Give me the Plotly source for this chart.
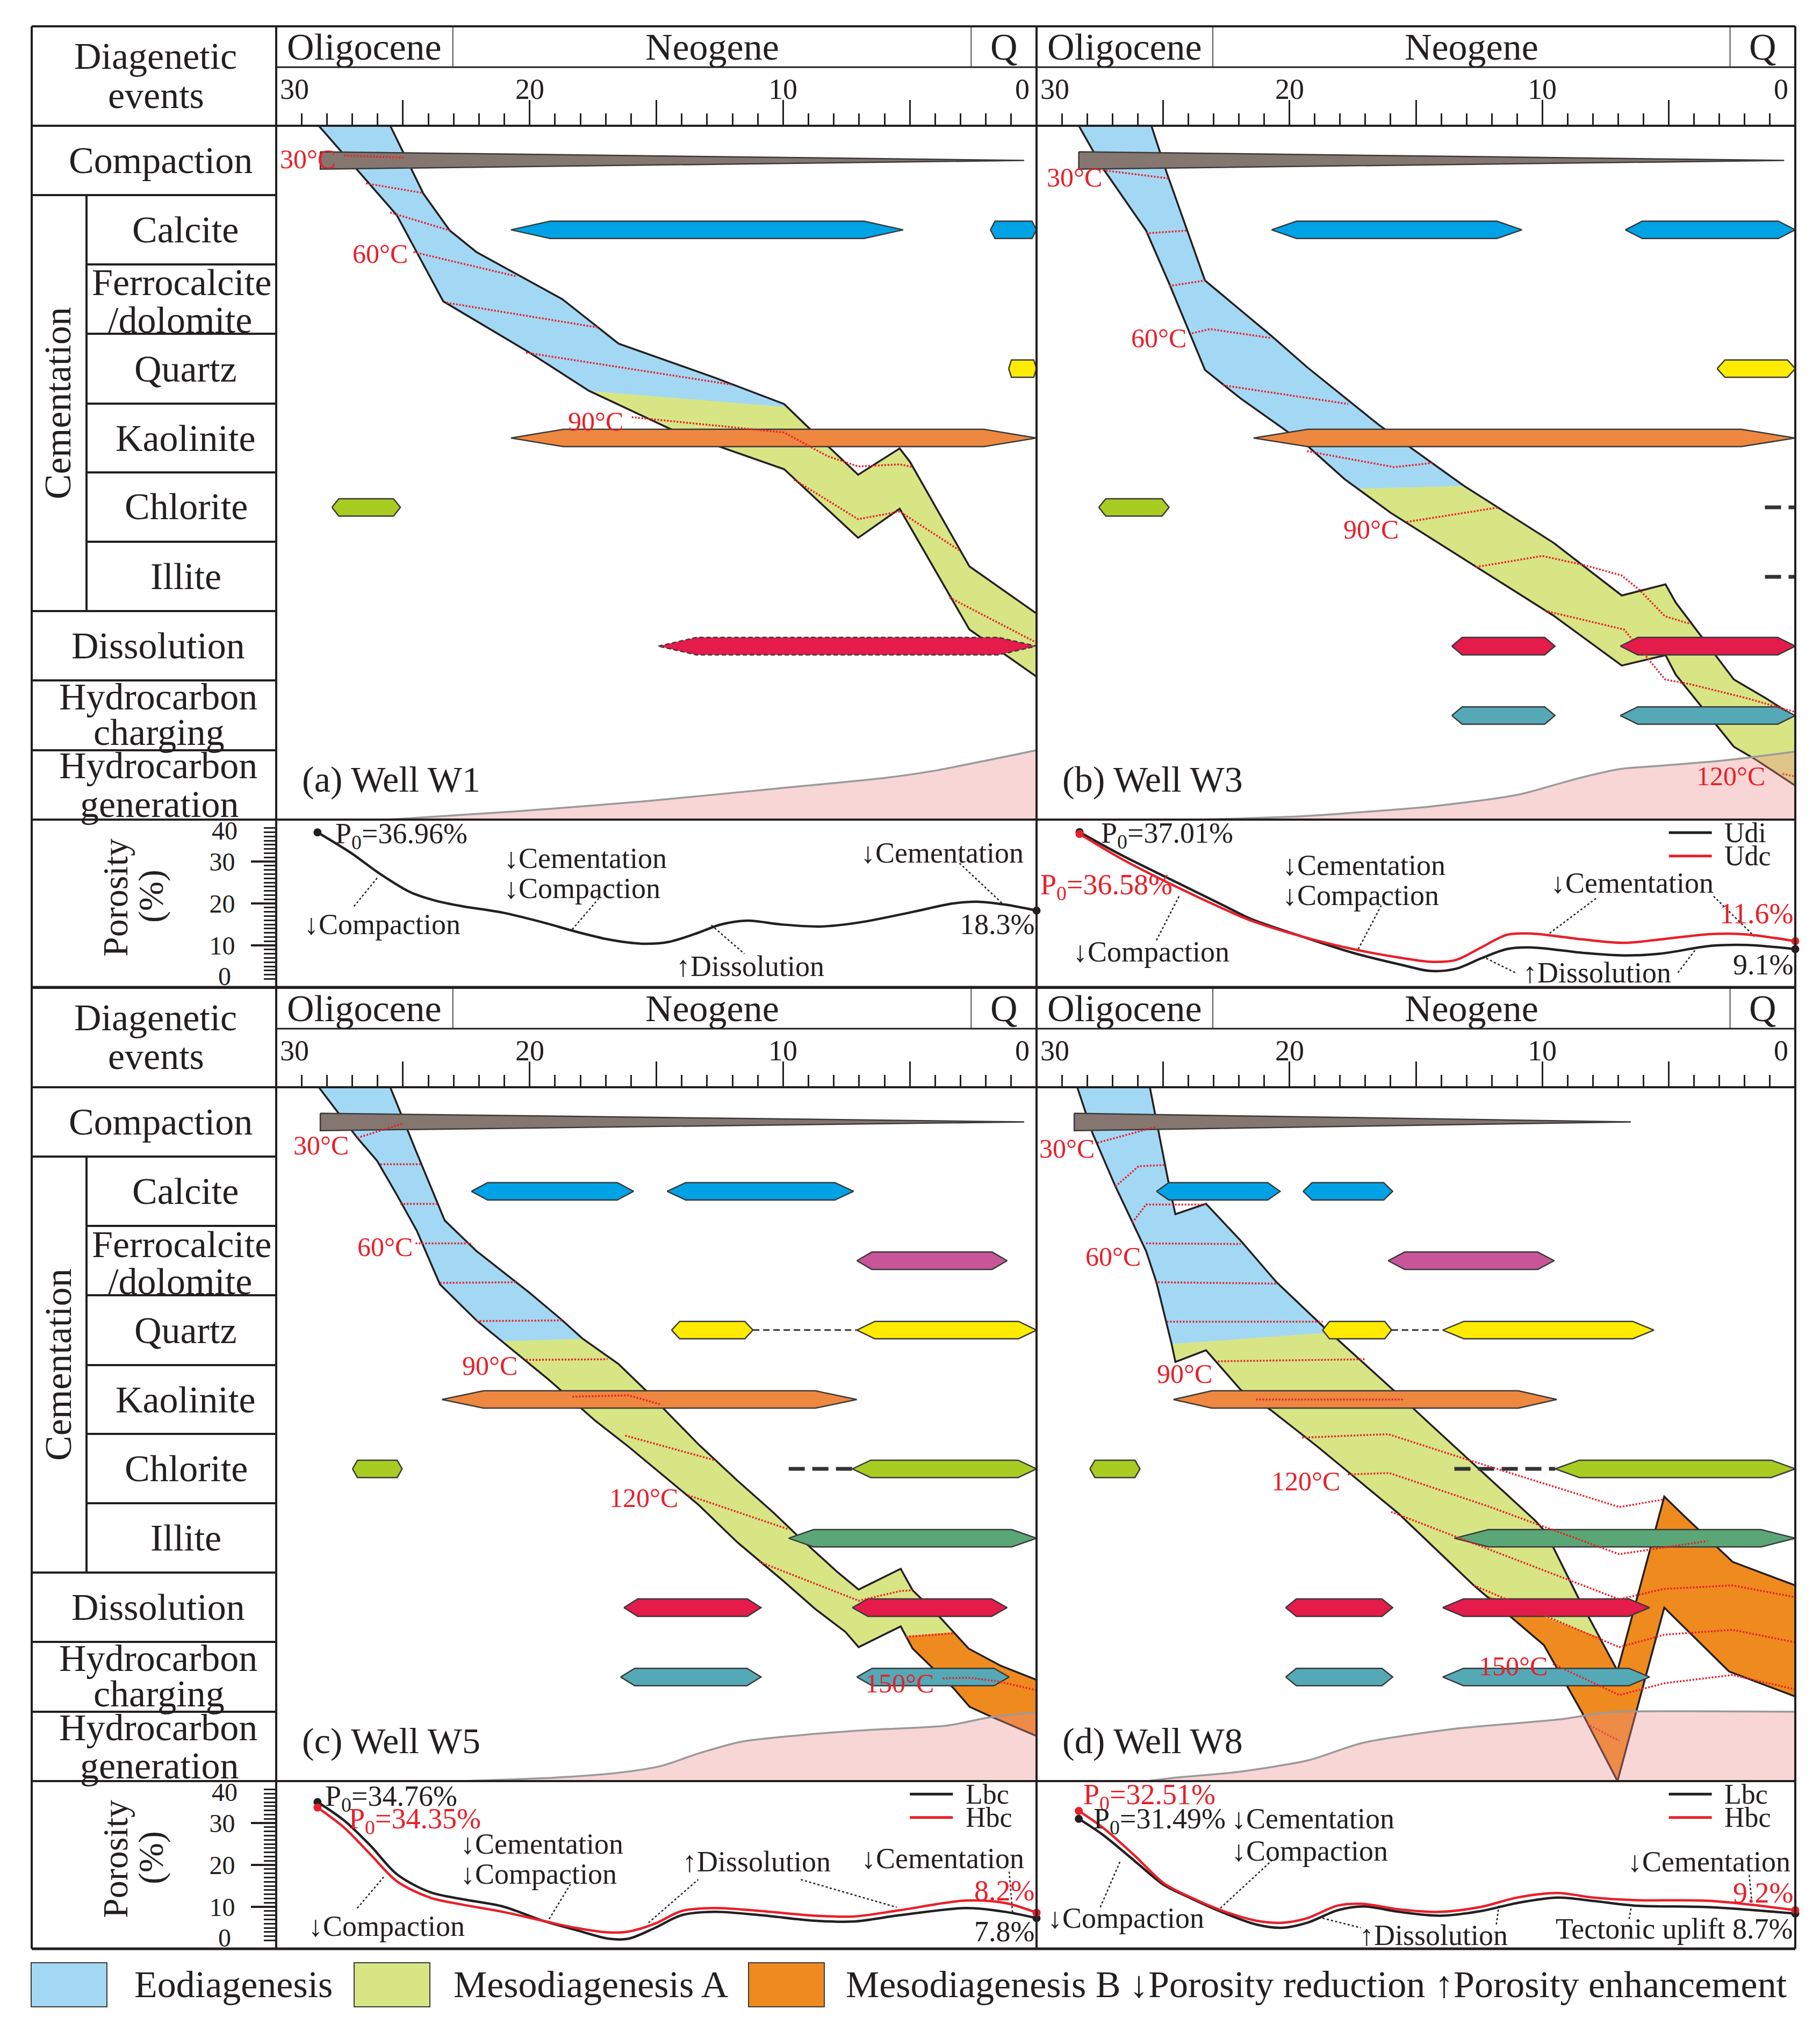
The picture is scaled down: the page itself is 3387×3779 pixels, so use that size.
import plotly.graph_objects as go

W, H = 3387, 3779
PAGE_MARGIN = 8  # the browser puts the figure 8 px in from the page corner
FONT = "Liberation Serif"
INK = "#231f20"
RED = "#e8202a"

ROWS = ["Compaction", "Calcite", "Ferrocalcite", "Quartz", "Kaolinite",
        "Chlorite", "Illite", "Dissolution", "HC charging", "HC generation"]

BAR_COLORS = {
    "Compaction": "#85766f", "Calcite": "#00a2e6", "Ferrocalcite": "#c8559a",
    "Quartz": "#ffeb00", "Kaolinite": "#ee8740", "Chlorite": "#a8cc22",
    "Illite": "#5ba676", "Dissolution": "#e41b4b", "HC charging": "#55a9b7",
}
ZONE_NAMES = ["Eodiagenesis", "Mesodiagenesis A", "Mesodiagenesis B"]
ZONE_COLORS = ["#a3d8f4", "#d8e584", "#ef8a1e"]

ERAS = [("Oligocene", 30.0, 23.03), ("Neogene", 23.03, 2.58), ("Q", 2.58, 0.0)]
AGE_LABELS = [30, 20, 10, 0]
MINOR_AGES = [a for a in range(1, 30) if a % 5]
MINOR_PHI = [p for p in range(2, 39) if p % 10]

# ---------------- Well W1 ----------------
W1_TOP = [(25.5, 0), (24.19, 0.98), (23.15, 1.51), (22.1, 1.82), (18.71, 2.50), (16.49, 3.14),
          (12.7, 3.63), (9.96, 4.01), (8.8, 4.42), (7.04, 5.03), (5.4, 4.65), (5.0, 4.84),
          (2.65, 6.35), (0, 7.03)]
W1_BOT = [(28.32, 0), (26.6, 0.72), (25.24, 1.29), (23.41, 2.53), (20.0, 3.27), (17.66, 3.82),
          (14.27, 4.40), (9.96, 4.95), (7.04, 5.94), (5.4, 5.52), (2.65, 7.26), (0, 7.94)]
W1_CUTS = [(17.66, 9.83)]
W1_ISOTHERMS = [
    [(27.32, 0.43), (24.97, 0.46)],
    [(26.46, 0.83), (24.19, 0.97)],
    [(25.5, 1.25), (23.15, 1.51)],
    [(24.58, 1.82), (20.53, 2.17)],
    [(23.28, 2.55), (17.27, 2.91)],
    [(20.14, 3.27), (12.05, 3.73)],
    [(15.97, 4.20), (9.96, 4.42), (8.26, 4.76), (7.04, 4.91), (5.40, 4.88), (4.87, 4.92)],
    [(9.57, 5.10), (7.04, 5.67), (5.40, 5.56), (3.04, 6.12)],
    [(3.43, 6.80), (0, 7.45)],
]
W1_TEMPS = [("30°C", 28.76, 0.48), ("60°C", 25.89, 1.84), ("90°C", 17.4, 4.26)]
W1_BARS = [("Compaction", 28.26, 0.49), ("Calcite", 20.74, 5.26), ("Calcite", 1.82, 0.0),
           ("Quartz", 1.1, 0.0), ("Kaolinite", 20.74, 0.0), ("Chlorite", 27.8, 25.1)]
W1_UNCERTAIN = [("Dissolution", 14.92, 0.0)]
W1_GAPS = []
W1_HCGEN = [(25.6, 10.0), (20.5, 9.88), (15.3, 9.73), (10.2, 9.55), (6.0, 9.4), (4.1, 9.3),
            (2.0, 9.15), (0.0, 9.0)]
W1_PHI_AGE = [28.37, 27.06, 25.89, 24.71, 23.67, 22.62, 21.06, 19.49, 18.19, 16.88, 15.57, 14.53,
              13.49, 12.44, 11.4, 10.09, 8.53, 6.96, 4.87, 3.30, 2.26, 1.22, 0]
W1_PHI = [36.96, 32.1, 27.0, 22.7, 20.6, 19.3, 17.8, 15.5, 13.3, 11.4, 10.4, 10.8,
          12.7, 15.0, 15.9, 15.0, 14.5, 15.5, 18.0, 20.0, 20.4, 19.7, 18.3]

# ---------------- Well W3 ----------------
W3_TOP = [(25.46, 0), (24.85, 0.68), (23.34, 2.23), (20.71, 3.03), (19.30, 3.48), (16.47, 4.31),
          (13.1, 5.19), (9.56, 6.01), (6.86, 6.77), (5.13, 6.61), (4.73, 6.87), (2.43, 7.98),
          (1.17, 8.25), (0, 8.52)]
W3_BOT = [(28.33, 0), (27.38, 0.61), (25.67, 1.51), (24.76, 2.27), (23.34, 3.52), (21.93, 3.93),
          (19.30, 4.61), (17.83, 5.09), (15.99, 5.58), (13.81, 6.08), (9.56, 7.06), (6.86, 7.78),
          (5.13, 7.63), (4.73, 7.91), (2.43, 8.95), (1.63, 9.12), (0, 9.51)]
W3_CUTS = [(17.3, 13.1)]
W3_ISOTHERMS = [
    [(27.38, 0.64), (24.76, 0.76)],
    [(25.67, 1.55), (24.05, 1.51)],
    [(24.76, 2.31), (23.34, 2.23)],
    [(23.85, 2.99), (23.14, 2.93), (20.71, 3.06)],
    [(22.63, 3.74), (17.68, 4.01)],
    [(19.30, 4.69), (15.86, 4.92), (14.35, 4.86)],
    [(15.36, 5.71), (11.72, 5.50)],
    [(12.63, 6.36), (10.0, 6.2), (8.38, 6.33), (6.87, 6.48), (6.16, 6.69), (5.15, 7.07), (4.14, 7.18)],
    [(9.9, 6.99), (6.77, 7.26), (5.15, 7.98), (4.14, 8.05), (1.92, 8.25), (0, 8.45)],
    [(0.5, 9.34), (0, 9.38)],
]
W3_TEMPS = [("30°C", 28.5, 0.74), ("60°C", 25.16, 3.06), ("90°C", 16.77, 5.82), ("120°C", 2.56, 9.37)]
W3_BARS = [("Compaction", 28.33, 0.44), ("Calcite", 20.71, 10.81), ("Calcite", 6.72, 0.0),
           ("Quartz", 3.09, 0.0), ("Kaolinite", 21.42, 0.0), ("Chlorite", 27.54, 24.76),
           ("Dissolution", 13.58, 9.5), ("Dissolution", 6.92, 0.0),
           ("HC charging", 13.58, 9.5), ("HC charging", 6.92, 0.0)]
W3_UNCERTAIN = []
W3_GAPS = [("Chlorite", 1.2, 0.0), ("Illite", 1.2, 0.0)]
W3_HCGEN = [(23.5, 10.0), (20.0, 9.96), (17.83, 9.91), (14.38, 9.81), (10.94, 9.64), (8.64, 9.41),
            (6.91, 9.27), (5.19, 9.22), (2.89, 9.15), (0.0, 9.02)]
W3_PHI_AGE = [28.3, 26.57, 24.55, 22.53, 21.52, 19.5, 17.48, 15.46, 14.45, 13.43, 12.42, 11.41,
              10.40, 8.38, 6.77, 5.35, 3.33, 1.92, 0]
W3_UDI = [37.01, 31.3, 25.3, 19.3, 16.3, 12.1, 8.2, 5.2, 3.9, 4.4, 6.9, 9.1, 9.5, 8.2, 7.6, 8.0,
          9.9, 10.1, 9.1]
W3_UDC = [36.58, 30.4, 24.2, 18.5, 15.9, 12.1, 9.1, 6.9, 6.1, 6.5, 9.5, 12.5, 12.8, 11.4, 10.6,
          11.4, 12.7, 12.6, 11.0]

# ---------------- Well W5 ----------------
W5_TOP = [(25.5, 0), (24.45, 0.95), (23.35, 1.92), (22.1, 2.36), (20.01, 2.96), (18.71, 3.36),
          (17.92, 3.62), (16.49, 3.99), (15.44, 4.36), (13.33, 5.15), (11.8, 5.67), (10.35, 6.14),
          (9.41, 6.47), (7.88, 6.98), (7.02, 7.24), (5.36, 6.94), (4.89, 7.25), (3.96, 7.58),
          (2.68, 8.09), (1.40, 8.34), (0, 8.54)]
W5_BOT = [(28.32, 0), (26.8, 0.73), (26.02, 1.06), (25.24, 1.55), (24.45, 2.07), (23.54, 2.84),
          (22.1, 3.36), (19.23, 4.22), (17.4, 4.81), (16.1, 5.18), (13.33, 6.02), (11.8, 6.56),
          (10.01, 7.11), (8.73, 7.52), (7.54, 7.85), (7.02, 8.07), (5.36, 7.77), (4.89, 8.09),
          (4.04, 8.39), (3.28, 8.66), (2.64, 8.93), (1.74, 9.08), (0, 9.35)]
W5_CUTS = [(21.1, 17.9), (5.15, 3.27)]
W5_ISOTHERMS = [
    [(26.8, 0.73), (24.97, 0.52)],
    [(25.89, 1.11), (24.32, 1.11)],
    [(25.1, 1.68), (23.61, 1.68)],
    [(24.5, 2.25), (22.31, 2.25)],
    [(23.54, 2.82), (20.54, 2.81)],
    [(22.1, 3.37), (18.71, 3.36)],
    [(20.14, 3.93), (16.93, 3.92)],
    [(18.31, 4.46), (16.1, 4.44), (14.84, 4.57)],
    [(16.23, 5.02), (13.33, 5.31), (12.65, 5.38)],
    [(13.75, 5.88), (9.8, 6.37)],
    [(10.94, 6.84), (7.02, 7.4), (5.36, 7.26), (4.89, 7.25)],
    [(5.15, 7.92), (3.27, 7.87)],
    [(3.70, 8.52), (2.68, 8.51), (1.57, 8.56), (0, 8.69)],
]
W5_TEMPS = [("30°C", 28.24, 0.84), ("60°C", 25.7, 2.3), ("90°C", 21.58, 4.01),
            ("120°C", 15.5, 5.92), ("150°C", 5.4, 8.59)]
W5_BARS = [("Compaction", 28.26, 0.49), ("Calcite", 22.3, 15.9), ("Calcite", 14.58, 7.22),
           ("Ferrocalcite", 7.09, 1.16), ("Quartz", 14.4, 11.19), ("Quartz", 7.09, 0.0),
           ("Kaolinite", 23.46, 7.09), ("Chlorite", 26.99, 25.03), ("Chlorite", 7.27, 0.0),
           ("Illite", 9.78, 0.0), ("Dissolution", 16.28, 10.87), ("Dissolution", 7.27, 1.16),
           ("HC charging", 16.41, 10.87), ("HC charging", 7.09, 1.08)]
W5_UNCERTAIN = []
W5_GAPS = [("Quartz", 11.19, 7.09), ("Chlorite", 9.78, 7.27)]
W5_HCGEN = [(22.6, 10.0), (19.0, 9.95), (16.5, 9.88), (14.79, 9.78), (13.33, 9.6), (11.63, 9.43),
            (9.07, 9.33), (6.51, 9.26), (3.53, 9.2), (1.83, 9.08), (0.0, 9.01)]
W5_PHI_AGE = [28.37, 27.32, 26.28, 25.24, 23.93, 22.62, 21.06, 19.49, 18.19, 16.88, 16.1, 15.05,
              14.01, 12.7, 10.87, 8.78, 7.22, 5.4, 2.78, 1.22, 0]
W5_LBC = [35.0, 30.6, 24.6, 17.8, 13.5, 11.8, 10.1, 6.7, 4.5, 2.4, 2.4, 5.0, 8.0, 8.8, 8.0, 6.7,
          6.5, 8.0, 9.7, 8.8, 7.3]
W5_HBC = [33.7, 28.9, 22.5, 16.1, 12.2, 10.5, 8.8, 6.7, 5.0, 3.9, 4.1, 6.0, 9.0, 9.7, 9.0, 7.9,
          7.7, 9.2, 11.5, 10.9, 8.6]

# ---------------- Well W8 ----------------
W8_TOP = [(25.52, 0), (24.75, 1.43), (24.51, 1.83), (23.3, 1.68), (21.93, 2.21), (20.51, 2.81),
          (18.69, 3.44), (15.66, 4.44), (14.42, 4.86), (10.30, 6.24), (9.87, 6.41), (8.59, 7.35),
          (7.03, 8.41), (5.18, 5.90), (4.33, 6.20), (2.48, 6.84), (0, 7.18)]
W8_BOT = [(28.39, 0), (27.79, 0.66), (26.88, 1.43), (25.67, 2.36), (25.26, 2.81), (24.66, 3.70),
          (24.51, 3.96), (23.3, 3.79), (21.93, 4.36), (20.71, 4.66), (18.89, 5.18), (16.83, 5.80),
          (15.7, 6.14), (12.71, 7.18), (11.29, 7.62), (9.94, 8.04), (8.45, 9.0), (7.03, 10.0),
          (5.18, 7.50), (2.62, 8.42), (0, 8.78)]
W8_CUTS = [(24.66, 18.4), (12.29, 7.74)]
W8_ISOTHERMS = [
    [(27.59, 0.80), (25.26, 0.57)],
    [(26.88, 1.43), (25.97, 1.14), (24.96, 1.12)],
    [(26.21, 1.95), (25.67, 1.69), (23.3, 1.69)],
    [(25.67, 2.25), (21.93, 2.26)],
    [(25.32, 2.81), (20.51, 2.83)],
    [(24.85, 3.38), (18.69, 3.38)],
    [(22.83, 3.95), (16.97, 3.92)],
    [(21.32, 4.50), (15.46, 4.50)],
    [(19.5, 5.05), (16.1, 5.0), (12.85, 5.38), (6.96, 6.05), (5.18, 5.94)],
    [(17.69, 5.58), (16.05, 5.56), (12.14, 6.04), (6.96, 6.73), (3.47, 6.54)],
    [(15.98, 6.12), (6.96, 7.38), (5.18, 7.23), (2.48, 7.18), (0, 7.35)],
    [(12.71, 7.18), (6.96, 8.07), (5.18, 7.89), (2.48, 7.82), (0, 8.0)],
    [(9.58, 8.31), (6.96, 8.76), (5.18, 8.59), (2.48, 8.47), (0, 8.68)],
    [(8.23, 9.18), (6.96, 9.42)],
]
W8_TEMPS = [("30°C", 28.8, 0.88), ("60°C", 26.98, 2.44), ("90°C", 24.15, 4.13),
            ("120°C", 19.36, 5.68), ("150°C", 11.16, 8.34)]
W8_BARS = [("Compaction", 28.51, 6.5), ("Calcite", 25.26, 20.37), ("Calcite", 19.46, 15.92),
           ("Ferrocalcite", 16.1, 9.53), ("Quartz", 18.69, 15.96), ("Quartz", 13.94, 5.59),
           ("Kaolinite", 24.59, 9.43), ("Chlorite", 27.89, 25.91), ("Chlorite", 9.49, 0.0),
           ("Illite", 13.48, 0.0), ("Dissolution", 20.15, 15.92), ("Dissolution", 13.94, 5.76),
           ("HC charging", 20.15, 15.92), ("HC charging", 13.94, 5.76)]
W8_UNCERTAIN = []
W8_GAPS = [("Quartz", 15.96, 13.94), ("Chlorite", 13.48, 9.49)]
W8_HCGEN = [(25.6, 10.0), (24.5, 9.95), (22.09, 9.87), (19.25, 9.7), (17.12, 9.45), (13.56, 9.25),
            (9.3, 9.11), (7.88, 9.03), (7.03, 9.0), (0.0, 9.0)]
W8_PHI_AGE = [28.33, 27.38, 26.17, 24.96, 23.95, 22.53, 21.32, 20.31, 19.30, 18.09, 17.07, 15.66,
              14.04, 12.42, 11.01, 9.4, 7.98, 6.36, 3.33, 0]
W8_LBC = [31.0, 27.2, 21.2, 15.2, 12.2, 8.4, 5.8, 5.0, 6.2, 9.2, 10.1, 8.8, 7.9, 9.0, 10.9, 12.2,
          11.4, 10.3, 9.9, 8.4]
W8_HBC = [32.9, 28.9, 22.5, 15.6, 12.4, 8.8, 6.7, 6.2, 7.3, 10.3, 10.7, 9.4, 8.8, 10.0, 12.2, 13.3,
          12.2, 11.6, 11.4, 9.2]

# porosity panel notes: (text, age, porosity, anchor, colour)
W1_NOTES = [("P<sub>0</sub>=36.96%", 27.71, 36.2, "left", INK), ("↓Cementation", 21.05, 30.8, "left", INK),
            ("↓Compaction", 21.05, 23.6, "left", INK), ("↓Compaction", 28.94, 15.0, "left", INK),
            ("↑Dissolution", 14.26, 5.0, "left", INK), ("↓Cementation", 6.97, 32.0, "left", INK),
            ("18.3%", 0.05, 15.0, "right", INK)]
W3_NOTES = [("P<sub>0</sub>=37.01%", 27.49, 36.4, "left", INK), ("P<sub>0</sub>=36.58%", 29.9, 24.0, "left", RED),
            ("↓Cementation", 20.31, 29.1, "left", INK), ("↓Compaction", 20.31, 21.9, "left", INK),
            ("↓Compaction", 28.6, 8.4, "left", INK), ("↓Cementation", 9.7, 24.9, "left", INK),
            ("↑Dissolution", 10.81, 3.5, "left", INK), ("11.6%", 0.05, 17.6, "right", RED),
            ("9.1%", 0.05, 5.4, "right", INK)]
W5_NOTES = [("P<sub>0</sub>=34.76%", 28.11, 35.9, "left", INK), ("P<sub>0</sub>=34.35%", 27.19, 30.6, "left", RED),
            ("↓Cementation", 22.76, 25.0, "left", INK), ("↓Compaction", 22.76, 17.8, "left", INK),
            ("↓Compaction", 28.76, 5.4, "left", INK), ("↑Dissolution", 14.01, 20.8, "left", INK),
            ("↓Cementation", 6.96, 21.6, "left", INK), ("8.2%", 0.05, 13.9, "right", RED),
            ("7.8%", 0.05, 4.1, "right", INK)]
W8_NOTES = [("P<sub>0</sub>=32.51%", 28.19, 36.4, "left", RED), ("P<sub>0</sub>=31.49%", 27.79, 30.6, "left", INK),
            ("↓Cementation", 22.33, 31.0, "left", INK), ("↓Compaction", 22.33, 23.3, "left", INK),
            ("↓Compaction", 29.6, 7.3, "left", INK), ("↑Dissolution", 17.28, 3.2, "left", INK),
            ("↓Cementation", 6.67, 20.8, "left", INK), ("9.2%", 0.05, 13.3, "right", RED),
            ("Tectonic uplift 8.7%", 0.05, 4.7, "right", INK)]
W1_LEADERS = [[(26.93, 19.3), (25.97, 26.4)], [(18.32, 13.8), (17.27, 21.2)],
              [(12.83, 14.8), (11.53, 8.0)], [(3.04, 29.6), (1.35, 20.0)]]
W3_LEADERS = [[(25.26, 11.2), (24.35, 21.9)], [(17.28, 9.1), (16.37, 19.5)], [(7.88, 21.2), (9.8, 12.5)],
              [(12.22, 6.9), (11.01, 3.3)], [(4.64, 3.5), (3.93, 9.1)], [(3.23, 21.7), (1.61, 12.1)]]
W5_LEADERS = [[(26.8, 9.7), (25.76, 17.1)], [(19.23, 7.1), (18.39, 15.4)], [(15.31, 6.2), (13.35, 16.5)],
              [(9.3, 16.5), (5.52, 9.9)], [(1.08, 18.4), (0.95, 8.8)]]
W8_LEADERS = [[(27.48, 9.9), (26.67, 21.2)], [(22.73, 9.7), (20.67, 21.2)], [(18.69, 7.3), (17.18, 5.0)],
              [(11.82, 5.8), (11.72, 10.3)], [(6.57, 7.1), (6.47, 10.5)], [(1.82, 17.6), (1.72, 11.2)]]

WELLS = [
    dict(title="(a) Well W1", top=W1_TOP, bot=W1_BOT, cuts=W1_CUTS, iso=W1_ISOTHERMS, temps=W1_TEMPS,
         bars=W1_BARS, uncertain=W1_UNCERTAIN, gaps=W1_GAPS, hcgen=W1_HCGEN,
         curves=[(W1_PHI_AGE, W1_PHI, INK)], keys=[], notes=W1_NOTES, leaders=W1_LEADERS),
    dict(title="(b) Well W3", top=W3_TOP, bot=W3_BOT, cuts=W3_CUTS, iso=W3_ISOTHERMS, temps=W3_TEMPS,
         bars=W3_BARS, uncertain=W3_UNCERTAIN, gaps=W3_GAPS, hcgen=W3_HCGEN,
         curves=[(W3_PHI_AGE, W3_UDI, INK), (W3_PHI_AGE, W3_UDC, RED)],
         keys=[("Udi", INK), ("Udc", RED)], notes=W3_NOTES, leaders=W3_LEADERS),
    dict(title="(c) Well W5", top=W5_TOP, bot=W5_BOT, cuts=W5_CUTS, iso=W5_ISOTHERMS, temps=W5_TEMPS,
         bars=W5_BARS, uncertain=W5_UNCERTAIN, gaps=W5_GAPS, hcgen=W5_HCGEN,
         curves=[(W5_PHI_AGE, W5_LBC, INK), (W5_PHI_AGE, W5_HBC, RED)],
         keys=[("Lbc", INK), ("Hbc", RED)], notes=W5_NOTES, leaders=W5_LEADERS),
    dict(title="(d) Well W8", top=W8_TOP, bot=W8_BOT, cuts=W8_CUTS, iso=W8_ISOTHERMS, temps=W8_TEMPS,
         bars=W8_BARS, uncertain=W8_UNCERTAIN, gaps=W8_GAPS, hcgen=W8_HCGEN,
         curves=[(W8_PHI_AGE, W8_LBC, INK), (W8_PHI_AGE, W8_HBC, RED)],
         keys=[("Lbc", INK), ("Hbc", RED)], notes=W8_NOTES, leaders=W8_LEADERS),
]

LEFT_TEXT = [("Diagenetic", 289, 104), ("events", 290, 177), ("Compaction", 299, 298),
             ("Calcite", 345, 427), ("Ferrocalcite", 338, 526), ("/dolomite", 335, 595),
             ("Quartz", 345, 686), ("Kaolinite", 345, 815), ("Chlorite", 346, 943),
             ("Illite", 346, 1072), ("Dissolution", 294, 1201), ("Hydrocarbon", 294, 1296),
             ("charging", 296, 1362), ("Hydrocarbon", 294, 1425), ("generation", 296, 1496)]

PANEL_X = [(514, 1929), (1929, 3341)]
HALF_OFF = [0, 1789]


def px(X):
    return (X - PAGE_MARGIN) / W


def py(Y):
    return 1 - (Y - PAGE_MARGIN) / H


def ax(n):
    return "" if n == 1 else str(n)


def interp_edge(edge, a):
    for (a0, r0), (a1, r1) in zip(edge, edge[1:]):
        if a0 >= a >= a1:
            t = (a0 - a) / (a0 - a1) if a0 != a1 else 0
            return r0 + t * (r1 - r0)
    return edge[-1][1]


def edge_slice(edge, hi, lo):
    pts = []
    if hi is not None:
        pts.append((hi, interp_edge(edge, hi)))
    pts += [p for p in edge if (hi is None or p[0] < hi) and (lo is None or p[0] > lo)]
    if lo is not None:
        pts.append((lo, interp_edge(edge, lo)))
    return pts


fig = go.Figure()
shapes, notes, axes = [], [], {}


def hline(Y, X0, X1, w=4):
    shapes.append(dict(type="line", xref="paper", yref="paper", x0=px(X0), x1=px(X1),
                       y0=py(Y), y1=py(Y), line=dict(color=INK, width=w)))


def vline(X, Y0, Y1, w=4):
    shapes.append(dict(type="line", xref="paper", yref="paper", x0=px(X), x1=px(X),
                       y0=py(Y0), y1=py(Y1), line=dict(color=INK, width=w)))


def text(t, x, y, size, xref="paper", yref="paper", color=INK, xanchor="center", angle=0, xshift=0):
    notes.append(dict(text=t, x=x, y=y, xref=xref, yref=yref, showarrow=False, xanchor=xanchor,
                      yanchor="middle", textangle=angle, xshift=xshift,
                      font=dict(family=FONT, size=size, color=color)))


H_BAR = 0.125
for k, w in enumerate(WELLS):
    ev, po = k + 1, k + 5
    x0, x1 = PANEL_X[k % 2]
    off = HALF_OFF[k // 2]
    xa, ya, xp, yp = "x" + ax(ev), "y" + ax(ev), "x" + ax(po), "y" + ax(po)
    axes["xaxis" + ax(ev)] = dict(domain=[px(x0), px(x1)], range=[30, 0], anchor=ya, side="top",
                                  showgrid=False, zeroline=False, showline=False, ticks="outside",
                                  tickvals=[25, 20, 15, 10, 5], ticklen=47, tickwidth=3, tickcolor=INK,
                                  showticklabels=False,
                                  minor=dict(tickvals=MINOR_AGES, ticklen=22, tickwidth=3,
                                             tickcolor=INK, ticks="outside", showgrid=False))
    axes["yaxis" + ax(ev)] = dict(domain=[py(1525 + off), py(234 + off)], range=[10, 0],
                                  anchor=xa, visible=False)
    axes["xaxis" + ax(po)] = dict(domain=[px(x0), px(x1)], range=[30, 0], anchor=yp, visible=False)
    ypa = dict(domain=[py(1837 + off), py(1525 + off)], range=[0, 40], anchor=xp,
               showgrid=False, zeroline=False, showline=False)
    if k % 2 == 0:
        ypa.update(ticks="outside", tickvals=[10, 20, 30], ticktext=["10", "20", "30"], ticklen=46,
                   tickwidth=4, tickcolor=INK, ticklabelstandoff=20,
                   tickfont=dict(family=FONT, size=48, color=INK),
                   minor=dict(tickvals=MINOR_PHI, ticklen=22, tickwidth=3, tickcolor=INK,
                              ticks="outside", showgrid=False))
        text("40", px(418), 37.4, 48, yref=yp)
        text("0", px(418), 2.6, 48, yref=yp)
    else:
        ypa.update(visible=False)
    axes["yaxis" + ax(po)] = ypa

    common = dict(xaxis=xa, yaxis=ya, showlegend=False, hoverinfo="skip")

    # burial history band split into diagenetic stages
    top, bot, cuts = w["top"], w["bot"], w["cuts"]
    for i in range(len(cuts) + 1):
        thi = cuts[i - 1][1] if i > 0 else None
        bhi = cuts[i - 1][0] if i > 0 else None
        tlo = cuts[i][1] if i < len(cuts) else None
        blo = cuts[i][0] if i < len(cuts) else None
        poly = edge_slice(top, thi, tlo) + edge_slice(bot, bhi, blo)[::-1]
        fig.add_trace(go.Scatter(x=[p[0] for p in poly], y=[p[1] for p in poly], mode="lines",
                                 fill="toself", fillcolor=ZONE_COLORS[i],
                                 line=dict(width=1, color=ZONE_COLORS[i]), **common))
    for edge in (top, bot):
        fig.add_trace(go.Scatter(x=[p[0] for p in edge], y=[p[1] for p in edge], mode="lines",
                                 line=dict(color=INK, width=3.5), **common))

    # dashed gaps between cement episodes
    for name, s, e in w["gaps"]:
        c = ROWS.index(name) + 0.5
        thin = name == "Quartz"
        fig.add_trace(go.Scatter(x=[s, e], y=[c, c], mode="lines",
                                 line=dict(color="#333333", width=3 if thin else 7,
                                           dash="12px,7px" if thin else "30px,14px"), **common))

    # event bars
    for group, dashed in ((w["bars"], False), (w["uncertain"], True)):
        for name, s, e in group:
            c = ROWS.index(name) + 0.5
            if name == "Compaction":
                xs, ys = [s, e, s, s], [c - H_BAR, c, c + H_BAR, c - H_BAR]
            else:
                tip = 0.1 * (s - e)
                xs = [s, s - tip, e + tip, e, e + tip, s - tip, s]
                ys = [c, c - H_BAR, c - H_BAR, c, c + H_BAR, c + H_BAR, c]
            fig.add_trace(go.Scatter(x=xs, y=ys, mode="lines", fill="toself",
                                     fillcolor=BAR_COLORS[name],
                                     line=dict(color="#3a3a3a", width=2.5,
                                               dash="8px,5px" if dashed else "solid"), **common))

    # isotherms
    for iso in w["iso"]:
        fig.add_trace(go.Scatter(x=[p[0] for p in iso], y=[p[1] for p in iso], mode="lines",
                                 line=dict(color=RED, width=3.5, dash="3px,3px"), **common))

    # hydrocarbon generation
    hc = w["hcgen"]
    fig.add_trace(go.Scatter(x=[hc[0][0], 0], y=[10, 10], mode="lines", line=dict(width=0), **common))
    fig.add_trace(go.Scatter(x=[p[0] for p in hc], y=[p[1] for p in hc], mode="lines",
                             fill="tonexty", fillcolor="rgba(236,140,140,0.36)",
                             line=dict(color="#9a9a9a", width=3.5, shape="spline", smoothing=0.7),
                             **common))

    for t, a, r in w["temps"]:
        text(t, a, r, 50, xref=xa, yref=ya, color=RED)
    text(w["title"], 30, 9.42, 68, xref=xa, yref=ya, xanchor="left", xshift=46)

    # header: eras and age labels
    for name, a0, a1 in ERAS:
        text(name, (a0 + a1) / 2, py(87 + off), 70, xref=xa)
        if a1 > 0:
            shapes.append(dict(type="line", xref=xa, yref="paper", x0=a1, x1=a1, y0=py(125 + off),
                               y1=py(49 + off), line=dict(color="#555555", width=2)))
    for a in AGE_LABELS:
        shift = 34 if a == 30 else (-27 if a == 0 else 0)
        text(str(a), a, py(166 + off), 54, xref=xa, xshift=shift)

    # porosity evolution
    pc = dict(xaxis=xp, yaxis=yp, showlegend=False, hoverinfo="skip")
    for seg in w["leaders"]:
        fig.add_trace(go.Scatter(x=[p[0] for p in seg], y=[p[1] for p in seg], mode="lines",
                                 line=dict(color=INK, width=2.5, dash="4px,4px"), **pc))
    for ages, vals, col in w["curves"]:
        fig.add_trace(go.Scatter(x=ages, y=vals, mode="lines",
                                 line=dict(color=col, width=4.5, shape="spline", smoothing=0.9), **pc))
    for ages, vals, col in w["curves"]:
        fig.add_trace(go.Scatter(x=[ages[0], ages[-1]], y=[vals[0], vals[-1]], mode="markers",
                                 marker=dict(color=col, size=15), cliponaxis=False, **pc))
    for t, a, p, anchor, col in w["notes"]:
        text(t, a, p, 54, xref=xp, yref=yp, color=col, xanchor=anchor)
    for j, (name, col) in enumerate(w["keys"]):
        pk = 36.9 - 5.6 * j
        shapes.append(dict(type="line", xref=xp, yref=yp, x0=5.0, x1=3.3, y0=pk, y1=pk,
                           line=dict(color=col, width=5)))
        text(name, 2.85, pk, 52, xref=xp, yref=yp, xanchor="left")

# table frame
for off in HALF_OFF:
    hline(49 + off, 59, 3341)
    hline(125 + off, 514, 3341, 3)
    hline(234 + off, 59, 3341)
    for Y in (363, 1137, 1266, 1396):
        hline(Y + off, 59, 514)
    for Y in (492, 621, 751, 879, 1008):
        hline(Y + off, 161, 514)
    hline(1525 + off, 59, 3341)
    hline(1837 + off, 59, 3341, 5)
    vline(161, 363 + off, 1137 + off)
    for t, X, Y in LEFT_TEXT:
        text(t, px(X), py(Y + off), 70)
    text("Cementation", px(108), py(750 + off), 70, angle=-90)
    text("Porosity", px(214), py(1670 + off), 66, angle=-90)
    text("(%)", px(281), py(1668 + off), 66, angle=-90)
for X in (59, 514, 1929, 3341):
    vline(X, 49, 3626)

# bottom legend
LEG_BOX_X = [58, 659, 1393]
LEG_TEXT_X = [248, 842, 1572]
for i, name in enumerate(ZONE_NAMES):
    shapes.append(dict(type="rect", xref="paper", yref="paper", x0=px(LEG_BOX_X[i]),
                       x1=px(LEG_BOX_X[i] + 141), y0=py(3734), y1=py(3652),
                       fillcolor=ZONE_COLORS[i], line=dict(color="#3a3a3a", width=2)))
    text(name, px(LEG_TEXT_X[i]), py(3692), 70, xanchor="left")
text("↓Porosity reduction", px(2100), py(3692), 70, xanchor="left")
text("↑Porosity enhancement", px(2668), py(3692), 70, xanchor="left")

fig.update_layout(width=W, height=H, margin=dict(l=0, r=0, t=0, b=0), paper_bgcolor="white",
                  plot_bgcolor="rgba(0,0,0,0)", showlegend=False, shapes=shapes, annotations=notes,
                  font=dict(family=FONT, color=INK), **axes)
fig.write_html("out.html")
